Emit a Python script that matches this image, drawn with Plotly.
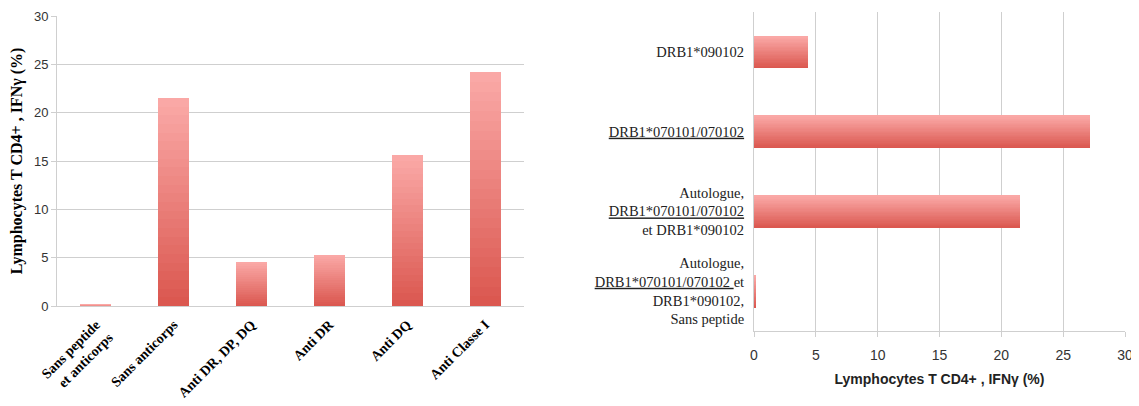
import plotly.graph_objects as go

# ---- data ----
left_categories = ["Sans peptide<br>et anticorps", "Sans anticorps", "Anti DR, DP, DQ",
                   "Anti DR", "Anti DQ", "Anti Classe I"]
left_values = [0.15, 21.5, 4.6, 5.3, 15.6, 24.2]

right_categories = ["Autologue,<br><u>DRB1*070101/070102 </u>et<br>DRB1*090102,<br>Sans peptide",
                    "Autologue,<br><u>DRB1*070101/070102</u><br>et DRB1*090102",
                    "<u>DRB1*070101/070102</u>",
                    "DRB1*090102"]
right_values = [0.1, 21.5, 27.2, 4.4]

axis_title = "Lymphocytes T CD4+ , IFNγ (%)"
tick_vals = [0, 5, 10, 15, 20, 25, 30]

# ---- page geometry (html body has an 8px margin) ----
W, H = 1131, 398


def px_x(X):
    return (X - 8) / W


def px_y(Y):
    return (406 - Y) / H


# ---- gradient helper ----
N = 24
light = (250, 168, 166)
dark = (219, 88, 80)


def mix(t):
    # t=0 -> dark, t=1 -> light
    return "rgb(%d,%d,%d)" % tuple(round(d + (l - d) * t) for d, l in zip(dark, light))


fig = go.Figure()

# left: vertical bars, gradient along bar height (stacked slices via base)
bar_w = 0.4
for k in range(N):
    fig.add_trace(go.Bar(
        x=left_categories,
        y=[v / N for v in left_values],
        base=[v * k / N for v in left_values],
        width=bar_w,
        marker=dict(color=mix(k / (N - 1)), line=dict(width=0)),
        xaxis="x", yaxis="y", showlegend=False, hoverinfo="skip",
    ))

# right: horizontal bars, gradient across bar thickness (thin strips via offset)
hbar_w = 0.4
for k in range(N):
    fig.add_trace(go.Bar(
        y=right_categories,
        x=right_values,
        orientation="h",
        width=hbar_w / N,
        offset=-hbar_w / 2 + k * hbar_w / N,
        marker=dict(color=mix(k / (N - 1)), line=dict(width=0)),
        xaxis="x2", yaxis="y2", showlegend=False, hoverinfo="skip",
    ))

grid = "#cfcfcf"
fig.update_layout(
    width=W, height=H,
    margin=dict(l=0, r=0, t=0, b=0),
    paper_bgcolor="white", plot_bgcolor="white",
    barmode="overlay", bargap=0,
    xaxis=dict(
        domain=[px_x(57), px_x(524)], anchor="y",
        type="category", range=[-0.5, 5.5],
        showgrid=False, showline=True, linecolor=grid, linewidth=1,
        ticks="", tickangle=-45, ticklabelstandoff=4,
        tickfont=dict(family="Liberation Serif", size=14, color="black", weight="bold"),
        automargin=False,
    ),
    yaxis=dict(
        domain=[px_y(306), px_y(16)], anchor="x",
        range=[0, 30], tickvals=tick_vals,
        showgrid=True, gridcolor=grid, gridwidth=1,
        showline=True, linecolor=grid, linewidth=1,
        ticks="outside", ticklen=5, tickcolor=grid,
        zeroline=False,
        tickfont=dict(family="Liberation Sans", size=13, color="#333333"),
        title=dict(text="<b>" + axis_title + "</b>", standoff=14,
                   font=dict(family="Liberation Serif", size=16, color="black")),
        automargin=False,
    ),
    xaxis2=dict(
        domain=[px_x(754), px_x(1125)], anchor="y2",
        range=[0, 30], tickvals=tick_vals,
        showgrid=True, gridcolor=grid, gridwidth=1,
        showline=True, linecolor=grid, linewidth=1,
        ticks="outside", ticklen=5, tickcolor=grid, ticklabelstandoff=6,
        zeroline=False,
        tickfont=dict(family="Liberation Sans", size=14, color="#333333"),
        title=dict(text="<b>" + axis_title + "</b>", standoff=12,
                   font=dict(family="Liberation Sans", size=14, color="#222222")),
        automargin=False,
    ),
    yaxis2=dict(
        domain=[px_y(331), px_y(12)], anchor="x2",
        type="category", range=[-0.5, 3.5],
        showgrid=False, showline=True, linecolor=grid, linewidth=1,
        ticks="", ticklabelstandoff=6,
        tickfont=dict(family="Liberation Serif", size=14.5, color="#222222"),
        automargin=False,
    ),
)

fig.write_html("out.html")
